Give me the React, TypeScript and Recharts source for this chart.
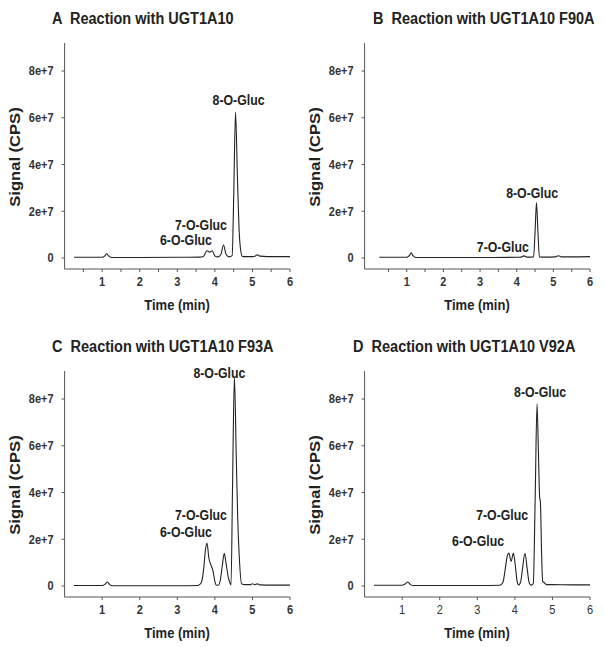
import { LineChart, Line, XAxis, YAxis, ReferenceDot } from "recharts";

// retention time (min) and signal (millions of CPS)
const timeA = [0.25, 0.6, 1.0, 1.07, 1.12, 1.17, 1.25, 2.0, 3.0, 3.6, 3.7, 3.79, 3.86, 3.93, 4.0, 4.08, 4.16, 4.23, 4.3, 4.38, 4.46, 4.5, 4.55, 4.6, 4.65, 4.69, 4.73, 4.8, 5.0, 5.08, 5.13, 5.2, 5.4, 6.0];
const signalA = [0.3, 0.3, 0.3, 0.9, 1.8, 0.9, 0.2, 0.2, 0.3, 0.4, 0.8, 3.1, 2.5, 3.1, 0.9, 0.5, 1.5, 5.6, 1.5, 0.5, 1.0, 25, 62.5, 35, 10.5, 3.0, 0.7, 0.6, 0.6, 0.9, 1.4, 0.8, 0.6, 0.6];

const timeB = [0.25, 1.0, 1.07, 1.12, 1.17, 1.25, 2.0, 3.0, 4.0, 4.12, 4.2, 4.28, 4.46, 4.5, 4.54, 4.58, 4.62, 4.8, 5.05, 5.14, 5.22, 5.5, 6.0];
const signalB = [0.3, 0.3, 1.0, 2.2, 1.0, 0.2, 0.2, 0.2, 0.3, 0.4, 0.9, 0.4, 0.5, 11, 23.6, 11, 0.5, 0.4, 0.5, 1.0, 0.5, 0.5, 0.6];

const timeC = [0.25, 1.0, 1.08, 1.14, 1.2, 1.28, 2.0, 3.0, 3.55, 3.64, 3.7, 3.75, 3.79, 3.84, 3.9, 3.95, 4.0, 4.04, 4.1, 4.15, 4.2, 4.25, 4.3, 4.36, 4.41, 4.43, 4.47, 4.52, 4.57, 4.61, 4.65, 4.71, 4.8, 4.95, 5.0, 5.06, 5.13, 5.2, 5.5, 6.0];
const signalC = [0.2, 0.2, 0.8, 1.7, 0.6, 0.1, 0.1, 0.1, 0.2, 1.5, 7, 15.5, 18.4, 12, 8.8, 6.5, 2, 0.3, 0.4, 3, 9, 14, 9.5, 3.5, 1.0, 0.5, 42, 89.5, 55, 28, 12.5, 1.0, 0.6, 0.6, 1.0, 0.6, 0.9, 0.5, 0.4, 0.4];

const timeD = [0.25, 1.0, 1.08, 1.15, 1.22, 1.3, 2.0, 3.0, 3.6, 3.68, 3.75, 3.8, 3.84, 3.9, 3.96, 4.01, 4.06, 4.1, 4.15, 4.2, 4.27, 4.33, 4.38, 4.43, 4.49, 4.54, 4.59, 4.63, 4.66, 4.68, 4.71, 4.74, 4.78, 4.84, 5.0, 5.5, 6.0];
const signalD = [0.3, 0.3, 0.9, 1.7, 0.6, 0.2, 0.2, 0.2, 0.3, 1.5, 8, 13, 14.1, 10.5, 14.1, 9, 2, 0.5, 1.5, 7, 14, 7, 1.5, 0.4, 1.0, 37, 78, 55, 38, 36, 15, 2, 1.5, 0.6, 0.6, 0.5, 0.5];

// peak annotations, placed in data units (min, millions CPS)
const labelsA = [
  { name: "8-O-Gluc", t: 4.63, v: 67.7 },
  { name: "7-O-Gluc", t: 3.63, v: 14.1 },
  { name: "6-O-Gluc", t: 3.23, v: 7.7 },
];
const labelsB = [
  { name: "8-O-Gluc", t: 4.42, v: 27.8 },
  { name: "7-O-Gluc", t: 3.62, v: 4.7 },
];
const labelsC = [
  { name: "8-O-Gluc", t: 4.12, v: 91.0 },
  { name: "7-O-Gluc", t: 3.63, v: 30.4 },
  { name: "6-O-Gluc", t: 3.23, v: 23.1 },
];
const labelsD = [
  { name: "8-O-Gluc", t: 4.67, v: 83.1 },
  { name: "7-O-Gluc", t: 3.66, v: 30.4 },
  { name: "6-O-Gluc", t: 3.02, v: 19.3 },
];

const yTicks = [0, 20, 40, 60, 80];
const halfTicks = [0.5, 1, 1.5, 2, 2.5, 3, 3.5, 4, 4.5, 5, 5.5, 6];
const wholeTicks = [1, 2, 3, 4, 5, 6];

const FONT = '"Liberation Sans", Arial, Helvetica, sans-serif';
const INK = "#222";
const AXIS = "#555";
// the scanned figure is a little taller than wide, so text is stretched
const STRETCH = 1.16;

type PeakLabel = { name: string; t: number; v: number };

function TallText({ x, y, text, anchor, baseline, size, weight, fill }: any) {
  return (
    <g transform={`translate(${x},${y}) scale(1,${STRETCH})`}>
      <text
        x={0}
        y={0}
        textAnchor={anchor}
        dominantBaseline={baseline}
        fontSize={size}
        fontWeight={weight}
        fill={fill}
        fontFamily={FONT}
      >
        {text}
      </text>
    </g>
  );
}

const yTickFmt = (v: number) => (v === 0 ? "0" : `${v / 10}e+7`);

type PanelProps = {
  left: number;
  top: number;
  title: string;
  titleX: number;
  time: number[];
  signal: number[];
  labels: PeakLabel[];
  xDomain: [number, number];
  xTicks: number[];
  boldX?: boolean;
};

function Panel({ left, top, title, titleX, time, signal, labels, xDomain, xTicks, boldX = true }: PanelProps) {
  const data = time.map((t, i) => ({ t, v: signal[i] }));
  return (
    <>
      <div
        style={{
          position: "absolute",
          left: left + titleX,
          top: top + 9,
          fontSize: 14.5,
          fontWeight: "bold",
          color: INK,
          whiteSpace: "pre",
          lineHeight: "18px",
          transform: `scaleY(${STRETCH})`,
          transformOrigin: "left center",
        }}
      >
        {title}
      </div>
      <div
        style={{
          position: "absolute",
          left: left + 15,
          top: top + 157,
          transform: `translate(-50%, -50%) scaleY(${STRETCH + 0.04}) rotate(-90deg)`,
          fontSize: 13.8,
          fontWeight: "bold",
          color: INK,
          whiteSpace: "nowrap",
        }}
      >
        Signal (CPS)
      </div>
      <div
        style={{
          position: "absolute",
          left: left + 177,
          top: top + 305,
          transform: `translate(-50%, -50%) scaleY(${STRETCH})`,
          fontSize: 13,
          fontWeight: "bold",
          color: INK,
          whiteSpace: "nowrap",
        }}
      >
        Time (min)
      </div>
      <div style={{ position: "absolute", left, top }}>
        <LineChart
          width={300}
          height={320}
          data={data}
          margin={{ top: 43, right: 10, bottom: 21, left: 24.6 }}
        >
          <XAxis
            dataKey="t"
            type="number"
            domain={xDomain}
            allowDataOverflow
            ticks={xTicks}
            interval={0}
            height={30}
            tickSize={3}
            tickMargin={5}
            stroke={AXIS}
            tick={(p: any) =>
              Number.isInteger(p.payload.value) ? (
                <TallText
                  x={p.x}
                  y={p.y}
                  text={String(p.payload.value)}
                  anchor="middle"
                  baseline="hanging"
                  size={11}
                  weight={boldX ? "bold" : "normal"}
                  fill="#333"
                />
              ) : (
                <g />
              )
            }
          />
          <YAxis
            type="number"
            domain={[-4.7, 92]}
            allowDataOverflow
            ticks={yTicks}
            interval={0}
            width={40}
            tickSize={3}
            tickMargin={8}
            stroke={AXIS}
            tick={(p: any) => (
              <TallText
                x={p.x}
                y={p.y}
                text={yTickFmt(p.payload.value)}
                anchor="end"
                baseline="central"
                size={11}
                weight="bold"
                fill="#333"
              />
            )}
          />
          <Line
            type="monotone"
            dataKey="v"
            stroke={INK}
            strokeWidth={1.1}
            dot={false}
            isAnimationActive={false}
          />
          {labels.map((l) => (
            <ReferenceDot
              key={l.name}
              x={l.t}
              y={l.v}
              r={0}
              fill="none"
              stroke="none"
              label={{
                content: (p: any) => (
                  <TallText
                    x={p.viewBox.x + (p.viewBox.width || 0) / 2}
                    y={p.viewBox.y + (p.viewBox.height || 0) / 2}
                    text={l.name}
                    anchor="middle"
                    baseline="central"
                    size={12.3}
                    weight="bold"
                    fill={INK}
                  />
                ),
              }}
            />
          ))}
        </LineChart>
      </div>
    </>
  );
}

export default function App() {
  return (
    <div
      style={{
        position: "absolute",
        left: 0,
        top: 0,
        width: 604,
        height: 647,
        background: "#fff",
        fontFamily: FONT,
      }}
    >
      <Panel
        left={0}
        top={0}
        title="A  Reaction with UGT1A10"
        titleX={52}
        time={timeA}
        signal={signalA}
        labels={labelsA}
        xDomain={[0, 6]}
        xTicks={halfTicks}
      />
      <Panel
        left={300}
        top={0}
        title="B  Reaction with UGT1A10 F90A"
        titleX={73}
        time={timeB}
        signal={signalB}
        labels={labelsB}
        xDomain={[-0.15, 6]}
        xTicks={halfTicks}
      />
      <Panel
        left={0}
        top={328}
        title="C  Reaction with UGT1A10 F93A"
        titleX={52}
        time={timeC}
        signal={signalC}
        labels={labelsC}
        xDomain={[0, 6]}
        xTicks={wholeTicks}
      />
      <Panel
        left={300}
        top={328}
        title="D  Reaction with UGT1A10 V92A"
        titleX={53}
        time={timeD}
        signal={signalD}
        labels={labelsD}
        xDomain={[0, 6]}
        xTicks={wholeTicks}
        boldX={false}
      />
    </div>
  );
}
